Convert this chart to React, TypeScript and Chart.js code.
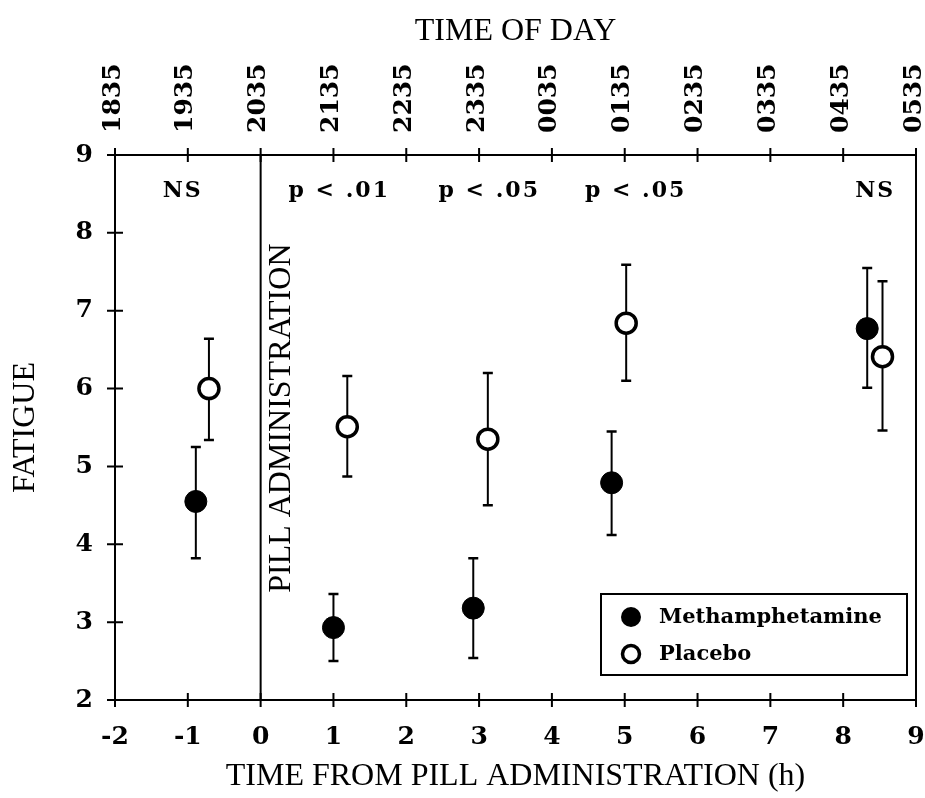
import React, { useEffect, useRef } from 'react';
import { Chart, registerables } from 'chart.js';

Chart.register(...registerables);

// ---- Data ----
const xTicks = [-2, -1, 0, 1, 2, 3, 4, 5, 6, 7, 8, 9];
const yTicks = [2, 3, 4, 5, 6, 7, 8, 9];
const timeOfDayLabels = ['1835', '1935', '2035', '2135', '2235', '2335', '0035', '0135', '0235', '0335', '0435', '0535'];

const methX = [-0.89, 1.0, 2.92, 4.82, 8.33];
const methY = [4.55, 2.93, 3.18, 4.79, 6.77];
const methLow = [3.82, 2.5, 2.54, 4.12, 6.01];
const methHigh = [5.25, 3.36, 3.82, 5.45, 7.55];

const placX = [-0.71, 1.19, 3.12, 5.02, 8.54];
const placY = [6.0, 5.51, 5.35, 6.84, 6.41];
const placLow = [5.34, 4.87, 4.5, 6.1, 5.46];
const placHigh = [6.64, 6.16, 6.2, 7.59, 7.38];

const statLabels = ['NS', 'p < .01', 'p < .05', 'p < .05', 'NS'];
const statX = [-1.07, 1.08, 3.14, 5.15, 8.44];
const statY = 8.53;

const pillLabel = 'PILL ADMINISTRATION';
const pillLabelX = 0.29;
const pillLabelY = 5.62;
const pillLineX = 0;

const tickFont = { family: 'DejaVu Serif', size: 25, weight: 'bold' as const };
const titleFont = { family: 'Liberation Serif', size: 32, weight: 'normal' as const };

const decorPlugin = {
  id: 'fatigueDecor',
  beforeDatasetsDraw(chart: any) {
    const { ctx, scales } = chart;
    const x = scales.x;
    const y = scales.y;
    ctx.save();
    ctx.strokeStyle = '#000';
    ctx.lineWidth = 2;
    const series: [number[], number[], number[]][] = [
      [methX, methLow, methHigh],
      [placX, placLow, placHigh],
    ];
    series.forEach(([xs, lows, highs]) => {
      xs.forEach((xv, i) => {
        const px = x.getPixelForValue(xv);
        const pl = y.getPixelForValue(lows[i]);
        const ph = y.getPixelForValue(highs[i]);
        ctx.lineWidth = 2;
        ctx.beginPath();
        ctx.moveTo(px, pl);
        ctx.lineTo(px, ph);
        ctx.stroke();
        ctx.lineWidth = 2.5;
        ctx.beginPath();
        ctx.moveTo(px - 5, pl);
        ctx.lineTo(px + 5, pl);
        ctx.moveTo(px - 5, ph);
        ctx.lineTo(px + 5, ph);
        ctx.stroke();
      });
    });
    // pill administration line
    ctx.lineWidth = 2;
    const p0 = x.getPixelForValue(pillLineX);
    ctx.beginPath();
    ctx.moveTo(p0, chart.chartArea.top);
    ctx.lineTo(p0, chart.chartArea.bottom);
    ctx.stroke();
    ctx.restore();
  },
  afterDraw(chart: any) {
    const { ctx, scales, chartArea } = chart;
    const x = scales.x;
    const y = scales.y;
    ctx.save();
    ctx.strokeStyle = '#000';
    ctx.fillStyle = '#000';
    ctx.lineWidth = 2;
    // right border
    ctx.beginPath();
    ctx.moveTo(chartArea.right, chartArea.top);
    ctx.lineTo(chartArea.right, chartArea.bottom);
    ctx.stroke();
    // tick marks crossing axes
    ctx.beginPath();
    xTicks.forEach((v) => {
      const px = x.getPixelForValue(v);
      ctx.moveTo(px, chartArea.bottom - 7);
      ctx.lineTo(px, chartArea.bottom + 7);
      ctx.moveTo(px, chartArea.top - 7);
      ctx.lineTo(px, chartArea.top + 7);
    });
    yTicks.forEach((v) => {
      const py = y.getPixelForValue(v);
      ctx.moveTo(chartArea.left - 8, py);
      ctx.lineTo(chartArea.left + 8, py);
    });
    ctx.stroke();

    // stat labels
    ctx.font = 'bold 22px "DejaVu Serif"';
    ctx.textAlign = 'center';
    ctx.textBaseline = 'middle';
    try {
      (ctx as any).letterSpacing = '2px';
    } catch (e) {}
    statLabels.forEach((t, i) => {
      ctx.fillText(t, x.getPixelForValue(statX[i]), y.getPixelForValue(statY));
    });
    try {
      (ctx as any).letterSpacing = '0px';
    } catch (e) {}

    // pill administration label
    ctx.save();
    ctx.translate(x.getPixelForValue(pillLabelX), y.getPixelForValue(pillLabelY));
    ctx.rotate(-Math.PI / 2);
    ctx.font = '32px "Liberation Serif"';
    ctx.textAlign = 'center';
    ctx.textBaseline = 'middle';
    ctx.fillText(pillLabel, 0, 0);
    ctx.restore();

    // legend box
    const boxRight = chartArea.right - 9;
    const boxLeft = boxRight - 306;
    const boxBottom = chartArea.bottom - 25;
    const boxTop = boxBottom - 81;
    ctx.lineWidth = 2;
    ctx.strokeRect(boxLeft, boxTop, boxRight - boxLeft, boxBottom - boxTop);
    const ds = chart.data.datasets;
    const rows = [boxTop + 23, boxTop + 60];
    ctx.font = 'bold 21px "DejaVu Serif"';
    ctx.textAlign = 'left';
    ctx.textBaseline = 'middle';
    ds.forEach((d: any, i: number) => {
      const cx = boxLeft + 30;
      const cy = rows[i];
      ctx.beginPath();
      if (i === 0) {
        ctx.arc(cx, cy, 10, 0, Math.PI * 2);
        ctx.fillStyle = '#000';
        ctx.fill();
      } else {
        ctx.arc(cx, cy, 8.5, 0, Math.PI * 2);
        ctx.fillStyle = '#fff';
        ctx.fill();
        ctx.lineWidth = 3.5;
        ctx.stroke();
      }
      ctx.fillStyle = '#000';
      ctx.fillText(d.label, boxLeft + 58, cy + 1);
    });
    ctx.restore();
  },
};

export default function App() {
  const canvasRef = useRef<HTMLCanvasElement | null>(null);

  useEffect(() => {
    document.body.style.margin = '0';
    const canvas = canvasRef.current;
    if (!canvas) return;
    Chart.defaults.font.family = 'DejaVu Serif';
    Chart.defaults.color = '#000';
    const chart = new Chart(canvas, {
      type: 'scatter',
      data: {
        datasets: [
          {
            label: 'Methamphetamine',
            data: methX.map((v, i) => ({ x: v, y: methY[i] })),
            pointRadius: 11,
            pointHoverRadius: 11,
            backgroundColor: '#000',
            borderColor: '#000',
            borderWidth: 1,
            showLine: false,
          },
          {
            label: 'Placebo',
            data: placX.map((v, i) => ({ x: v, y: placY[i] })),
            pointRadius: 10,
            pointHoverRadius: 10,
            backgroundColor: '#fff',
            borderColor: '#000',
            borderWidth: 3.5,
            showLine: false,
          },
        ],
      },
      options: {
        animation: false,
        responsive: false,
        devicePixelRatio: 1,
        layout: { autoPadding: false, padding: { left: 0, right: 9, top: 0, bottom: 0 } },
        plugins: { legend: { display: false }, tooltip: { enabled: false } },
        scales: {
          x: {
            type: 'linear',
            position: 'bottom',
            min: -2,
            max: 9,
            afterBuildTicks: (s: any) => {
              s.ticks = xTicks.map((v) => ({ value: v }));
            },
            ticks: { font: tickFont, color: '#000', padding: 22, maxRotation: 0, autoSkip: false },
            grid: { display: false, drawTicks: false },
            border: { display: true, color: '#000', width: 2 },
            title: {
              display: true,
              text: 'TIME FROM PILL ADMINISTRATION (h)',
              font: titleFont,
              color: '#000',
              padding: { top: 0, bottom: 2 },
            },
            afterFit: (s: any) => {
              s.height = 98;
              s.paddingLeft = 0;
              s.paddingRight = 0;
            },
          },
          x2: {
            type: 'linear',
            position: 'top',
            min: -2,
            max: 9,
            afterBuildTicks: (s: any) => {
              s.ticks = xTicks.map((v) => ({ value: v }));
            },
            ticks: {
              font: tickFont,
              color: '#000',
              padding: 22,
              labelOffset: 28,
              minRotation: 90,
              maxRotation: 90,
              autoSkip: false,
              callback: (v: any) => {
                const i = xTicks.indexOf(Number(v));
                return i >= 0 ? timeOfDayLabels[i] : '';
              },
            },
            grid: { display: false, drawTicks: false },
            border: { display: true, color: '#000', width: 2 },
            title: {
              display: true,
              text: 'TIME OF DAY',
              font: titleFont,
              color: '#000',
              padding: { top: 12, bottom: 0 },
            },
            afterFit: (s: any) => {
              s.height = 155;
              s.paddingLeft = 0;
              s.paddingRight = 0;
            },
          },
          y: {
            type: 'linear',
            position: 'left',
            min: 2,
            max: 9,
            afterBuildTicks: (s: any) => {
              s.ticks = yTicks.map((v) => ({ value: v }));
            },
            ticks: { font: tickFont, color: '#000', padding: 22 },
            grid: { display: false, drawTicks: false },
            border: { display: true, color: '#000', width: 2 },
            title: {
              display: true,
              text: 'FATIGUE',
              font: titleFont,
              color: '#000',
              padding: { top: 6, bottom: 0 },
            },
            afterFit: (s: any) => {
              s.width = 115;
            },
          },
        },
      } as any,
      plugins: [decorPlugin],
    });
    return () => chart.destroy();
  }, []);

  return (
    <div style={{ width: 925, height: 798 }}>
      <canvas ref={canvasRef} width={925} height={798} style={{ display: 'block', width: 925, height: 798 }} />
    </div>
  );
}
